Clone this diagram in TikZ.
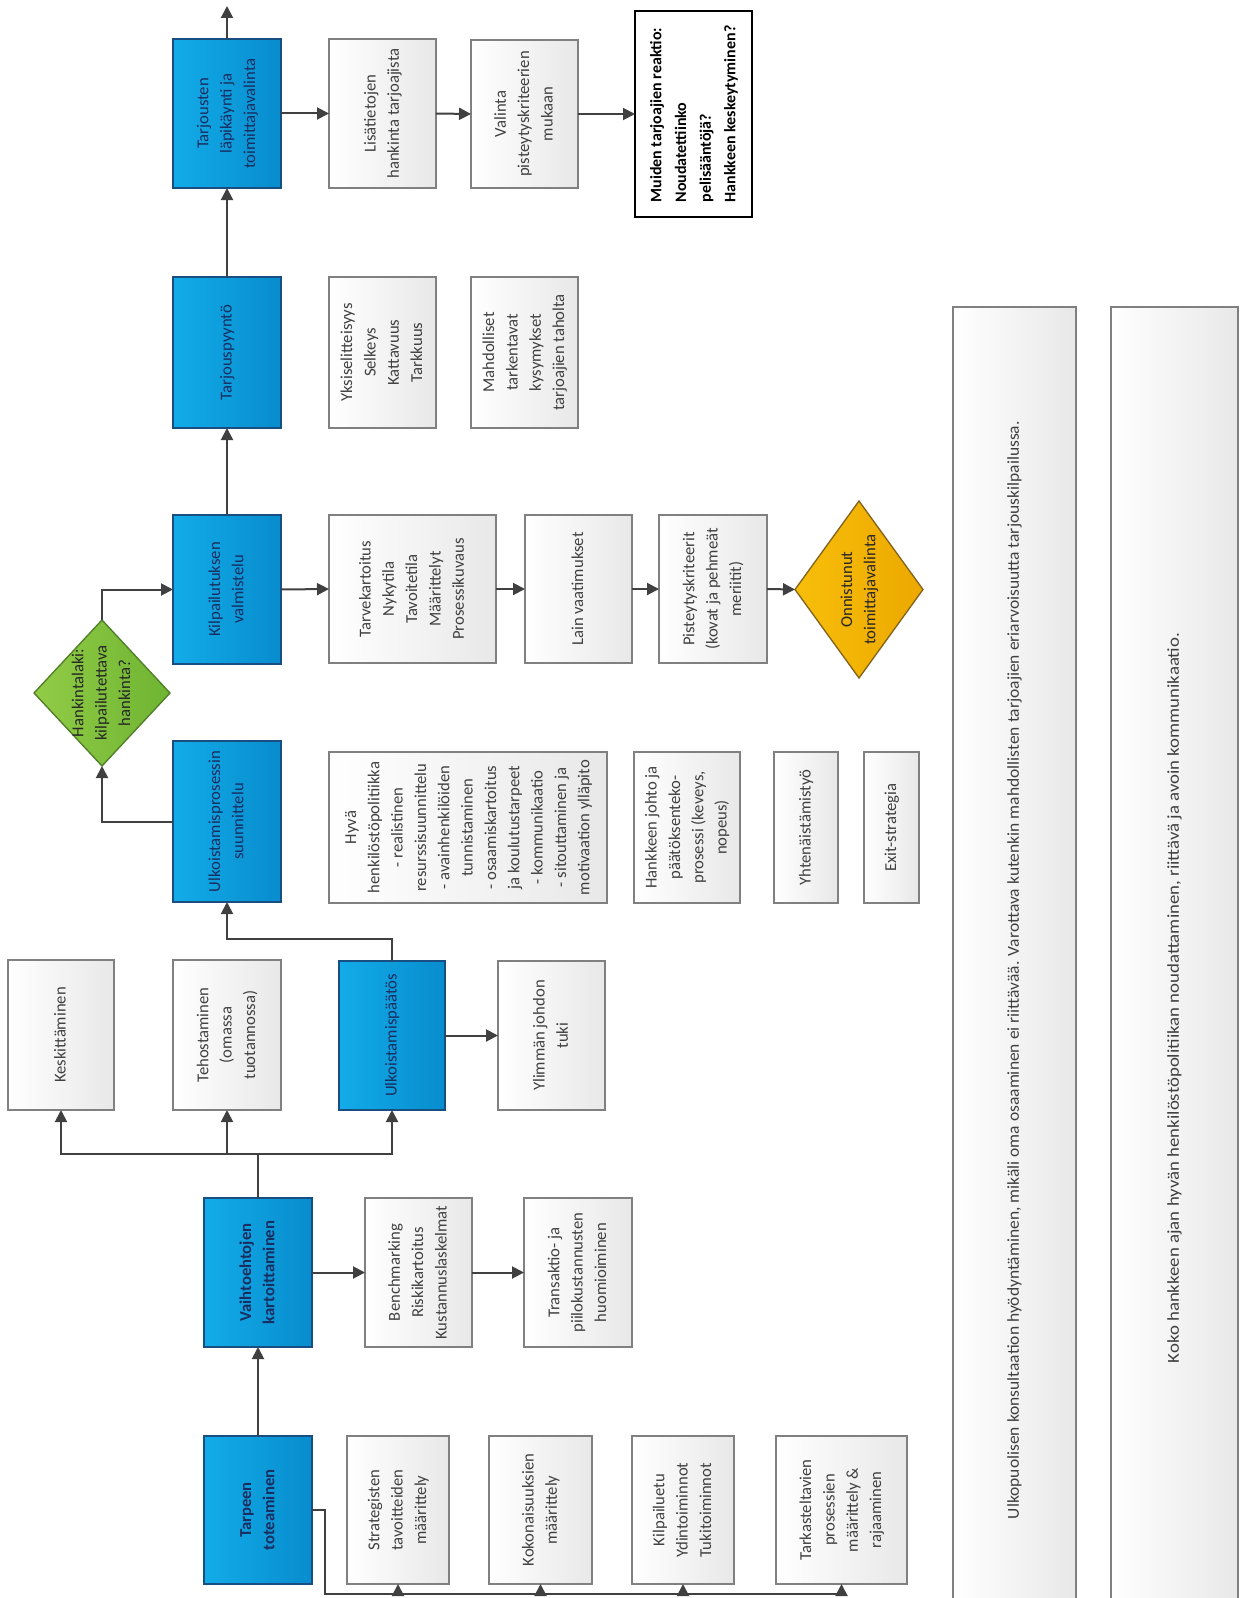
\documentclass[tikz,border=0pt]{standalone}
\usepackage{fontspec}
\setmainfont{Carlito}
\usepackage{graphicx}
\usetikzlibrary{shapes.geometric,arrows.meta}
\definecolor{bluel}{RGB}{18,172,232}
\definecolor{bluer}{RGB}{8,140,206}
\definecolor{blueb}{RGB}{24,78,130}
\definecolor{navy}{RGB}{25,45,95}
\definecolor{gtxt}{RGB}{64,64,64}
\definecolor{gbord}{RGB}{128,128,128}
\definecolor{gright}{RGB}{232,232,232}
\definecolor{linec}{RGB}{64,64,64}
\definecolor{greenl}{RGB}{146,204,70}
\definecolor{greenr}{RGB}{110,180,50}
\definecolor{greenb}{RGB}{80,125,40}
\definecolor{orl}{RGB}{248,190,10}
\definecolor{orr}{RGB}{236,168,0}
\definecolor{orb}{RGB}{130,100,30}
\newcommand{\rt}[1]{\rotatebox{90}{\begin{tabular}{@{}c@{}}#1\end{tabular}}}
\newcommand{\rtl}[1]{\rotatebox{90}{\begin{tabular}{@{}l@{}}#1\end{tabular}}}
\newcommand{\rts}[2]{\rotatebox{90}{\scalebox{#1}[1]{#2}}}
\tikzset{
 sz/.style 2 args={minimum width=#1*0.75pt, minimum height=#2*0.75pt},
 base/.style={rectangle, inner sep=0pt, outer sep=0pt, font=\fontsize{12.5}{17.5}\selectfont},
 bbox/.style={base, draw=blueb, line width=1.5pt, left color=bluel, right color=bluer, text=navy},
 bboxb/.style={bbox, font=\fontsize{12.5}{17.5}\selectfont\bfseries},
 gbox/.style={base, draw=gbord, line width=1.5pt, left color=white, right color=gright, text=gtxt},
 wbox/.style={base, draw=black, line width=1.2pt, fill=white, text=black, font=\fontsize{12}{18.5}\selectfont\bfseries},
 arr/.style={draw=linec, line width=1.5pt, -{Triangle[length=9pt,width=9pt]}},
 ln/.style={draw=linec, line width=1.5pt},
 gdia/.style={diamond, inner sep=0pt, outer sep=0pt, draw=greenb, line width=1pt, left color=greenl, right color=greenr},
 odia/.style={diamond, inner sep=0pt, outer sep=0pt, draw=orb, line width=1pt, left color=orl, right color=orr},
 dtxt/.style={base, text=black!85},
 ltxt/.style={base, text=gtxt},
}
\begin{document}
\begin{tikzpicture}[x=0.75pt,y=-0.75pt]
\useasboundingbox (0,0) rectangle (1239,1598);
\fill[white] (0,0) rectangle (1239,1598);
\clip (0,0) rectangle (1239,1598);

% long boxes
\node[gbox, sz={123}{1333}] (long1) at (1014.5,973.5) {};
\node[gbox, sz={127}{1333}] (long2) at (1174.5,973.5) {};
\node[ltxt] (long1t) at (1014.5,970) {\rts{1.05}{Ulkopuolisen konsultaation hyödyntäminen, mikäli oma osaaminen ei riittävää. Varottava kutenkin mahdollisten tarjoajien eriarvoisuutta tarjouskilpailussa.}};
\node[ltxt] (long2t) at (1174.5,998) {\rts{1.13}{Koko hankkeen ajan hyvän henkilöstöpolitiikan noudattaminen, riittävä ja avoin kommunikaatio.}};

% main blue column
\node[bboxb, sz={108}{148}] (tarp) at (258,1510) {\rt{Tarpeen\\toteaminen}};
\node[bboxb, sz={108}{149}] (vaiht) at (258,1272.5) {\rt{Vaihtoehtojen\\kartoittaminen}};
\node[bbox, sz={106}{149}] (ulkp) at (392,1035.5) {\rt{Ulkoistamispäätös}};
\node[bbox, sz={108}{161}] (ulks) at (227,821.5) {\rt{Ulkoistamisprosessin\\suunnittelu}};
\node[bbox, sz={108}{149}] (kilp) at (227,589.5) {\rt{Kilpailutuksen\\valmistelu}};
\node[bbox, sz={108}{151}] (tpyy) at (227,352.5) {\rt{Tarjouspyyntö}};
\node[bbox, sz={108}{149}] (tarj) at (227,113.5) {\rt{Tarjousten\\läpikäynti ja\\toimittajavalinta}};

% gray boxes
\node[gbox, sz={106}{150}] (kesk) at (61,1035) {\rt{Keskittäminen}};
\node[gbox, sz={108}{150}] (teho) at (227,1035) {\rt{Tehostaminen\\(omassa\\tuotannossa)}};
\node[gbox, sz={107}{149}] (ylim) at (551.5,1035.5) {\rt{Ylimmän johdon\\tuki}};
\node[gbox, sz={107}{149}] (bench) at (418.5,1272.5) {\rt{Benchmarking\\Riskikartoitus\\Kustannuslaskelmat}};
\node[gbox, sz={108}{149}] (trans) at (578,1272.5) {\rt{Transaktio- ja\\piilokustannusten\\huomioiminen}};
\node[gbox, sz={102}{148}] (strat) at (398,1510) {\rt{Strategisten\\tavoitteiden\\määrittely}};
\node[gbox, sz={103}{148}] (koko) at (540.5,1510) {\rt{Kokonaisuuksien\\määrittely}};
\node[gbox, sz={102}{148}] (kilpe) at (683,1510) {\rt{Kilpailuetu\\Ydintoiminnot\\Tukitoiminnot}};
\node[gbox, sz={131}{148}] (tark) at (841.5,1510) {\rt{Tarkasteltavien\\prosessien\\määrittely \&\\rajaaminen}};
\node[gbox, sz={278}{151}] (hyva) at (468,827.5) {\rt{Hyvä\\henkilöstöpolitiikka\\- realistinen\\resurssisuunnittelu\\- avainhenkilöiden\\tunnistaminen\\- osaamiskartoitus\\ja koulutustarpeet\\- kommunikaatio\\- sitouttaminen ja\\motivaation ylläpito}};
\node[gbox, sz={106}{151}] (hank) at (687,827.5) {\rt{Hankkeen johto ja\\päätöksenteko-\\prosessi (keveys,\\nopeus)}};
\node[gbox, sz={64}{151}] (yht) at (806,827.5) {\rt{Yhtenäistämistyö}};
\node[gbox, sz={55}{151}] (exit) at (891.5,827.5) {\rt{Exit-strategia}};
\node[gbox, sz={167}{148}] (tarve) at (412.5,589) {\rt{Tarvekartoitus\\Nykytila\\Tavoitetila\\Määrittelyt\\Prosessikuvaus}};
\node[gbox, sz={107}{148}] (lain) at (578.5,589) {\rt{Lain vaatimukset}};
\node[gbox, sz={108}{148}] (piste) at (713,589) {\rt{Pisteytyskriteerit\\(kovat ja pehmeät\\meriitit)}};
\node[gbox, sz={107}{151}] (yksi) at (382.5,352.5) {\rt{Yksiselitteisyys\\Selkeys\\Kattavuus\\Tarkkuus}};
\node[gbox, sz={107}{151}] (mahd) at (524.5,352.5) {\rt{Mahdolliset\\tarkentavat\\kysymykset\\tarjoajien taholta}};
\node[gbox, sz={107}{149}] (lisa) at (382.5,113.5) {\rt{Lisätietojen\\hankinta tarjoajista}};
\node[gbox, sz={107}{148}] (vali) at (524.5,114) {\rt{Valinta\\pisteytyskriteerien\\mukaan}};
\node[wbox, sz={117}{206}] (muid) at (693.5,114) {\rtl{Muiden tarjoajien reaktio:\\Noudatettiinko\\pelisääntöjä?\\Hankkeen keskeytyminen?}};

% diamonds
\node[gdia, sz={136}{146}] (hk) at (102,693) {};
\node[dtxt] (hkt) at (hk.center) {\rt{Hankintalaki:\\kilpailutettava\\hankinta?}};
\node[odia, sz={128}{177}] (onni) at (859,589.5) {};
\node[dtxt] (onnit) at (onni.center) {\rt{Onnistunut\\toimittajavalinta}};

% connectors
\coordinate (b0) at (325,1594);
\draw[ln] (tarp.east) -| (b0) -- (tark.south |- b0);
\foreach \n in {strat,koko,kilpe,tark}{\draw[arr] (\n.south |- b0) -- (\n.south);}
\draw[arr] (tarp.north) -- (vaiht.south);
\coordinate (fk) at (258,1154);
\draw[ln] (vaiht.north) -- (fk);
\draw[arr] (fk) -| (kesk.south);
\draw[arr] (fk) -| (ulkp.south);
\draw[arr] (teho.south |- fk) -- (teho.south);
\draw[arr] (vaiht.east) -- (bench.west);
\draw[arr] (bench.east) -- (trans.west);
\draw[arr] (ulkp.east) -- (ylim.west);
\coordinate (c1) at (392,939);
\draw[arr] (ulkp.north) -- (c1) -| (ulks.south);
\draw[arr] (ulks.west) -| (hk.south);
\draw[arr] (hk.north) |- (kilp.west);
\draw[arr] (kilp.east) -- (tarve.west);
\draw[arr] (tarve.east) -- (lain.west);
\draw[arr] (lain.east) -- (piste.west);
\draw[arr] (piste.east) -- (onni.west);
\draw[arr] (kilp.north) -- (tpyy.south);
\draw[arr] (tpyy.north) -- (tarj.south);
\coordinate (top) at (227,6);
\draw[arr] (tarj.north) -- (top);
\draw[arr] (tarj.east) -- (lisa.west);
\draw[arr] (lisa.east) -- (vali.west);
\draw[arr] (vali.east) -- (muid.west);
\end{tikzpicture}
\end{document}
